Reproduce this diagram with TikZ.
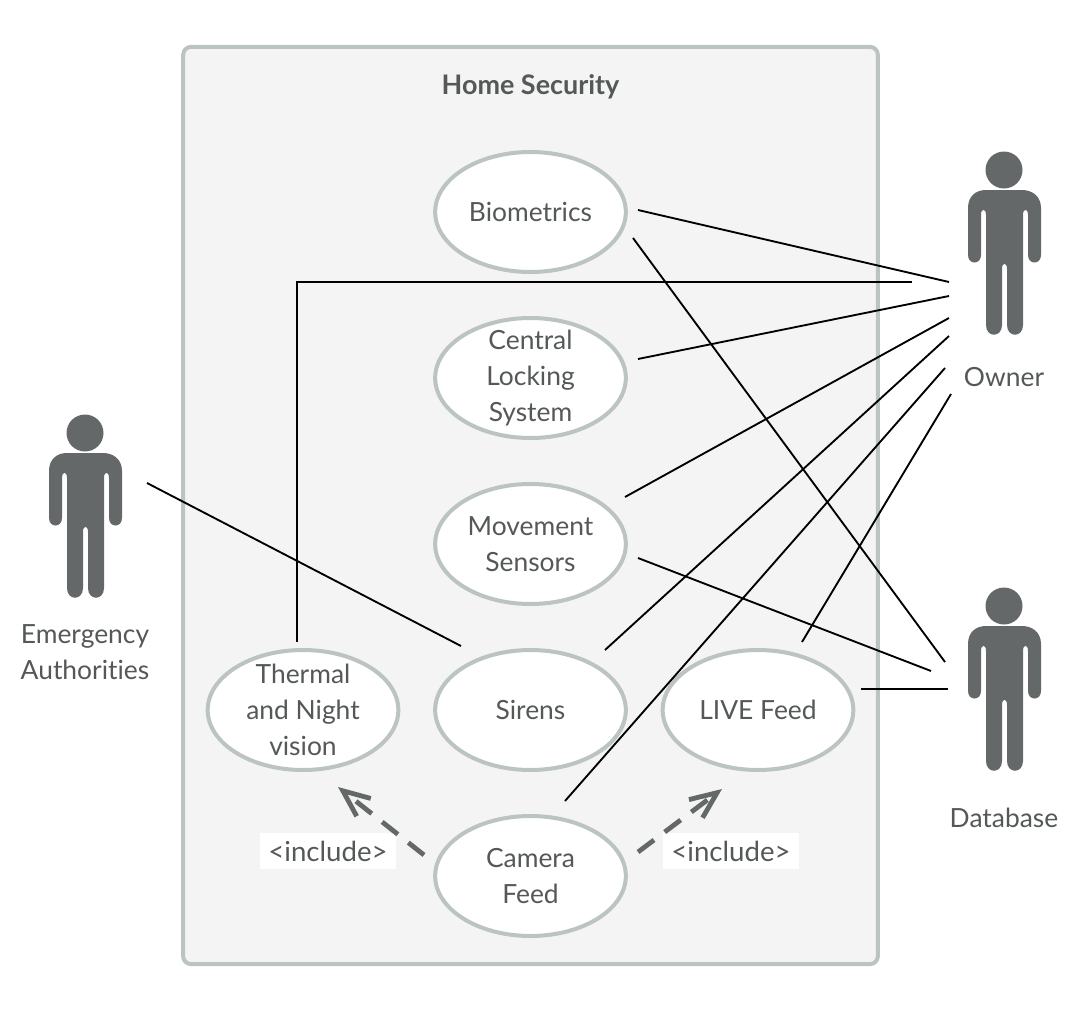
\documentclass[tikz,border=0pt]{standalone}
\usepackage{fontspec}
\setmainfont{Lato}[Ligatures={NoCommon,NoRequired,NoContextual}]
\usetikzlibrary{arrows.meta,shapes.geometric}
\definecolor{ink}{HTML}{555858}
\definecolor{figure}{HTML}{656869}
\definecolor{rim}{HTML}{BCC3C3}
\definecolor{panel}{HTML}{F4F4F4}
\tikzset{
  x=0.75pt,y=-0.75pt,
  txt/.style={text=ink,font=\fontsize{19.8}{27}\selectfont,align=center,inner sep=0pt},
  usecase/.style={ellipse,draw=rim,fill=white,line width=3pt,minimum width=143pt,minimum height=90pt,txt,inner sep=-30pt},
  assoc/.style={draw=black,line width=1.4pt},
  incl/.style={draw=figure,line width=3.6pt,dash pattern=on 15pt off 10pt,-{Straight Barb[length=20pt,width=17pt,line width=3.6pt]}},
  tag/.style={fill=white,minimum width=102pt,minimum height=27pt,txt,font=\fontsize{20.7}{27}\selectfont},
}
\newcommand{\stickman}[2]{%
  \begin{scope}[shift={(#1,#2)}]
    \fill[figure] (0,0) circle[radius=18.5];
    \fill[figure] (-18,20) -- (18,20)
      .. controls (28,20) and (37,26) .. (37,38)
      -- (37,85) .. controls (37,95) and (24,95) .. (24,85)
      -- (24,45) .. controls (24,38) and (19,38) .. (19,45)
      -- (19,155) .. controls (19,168) and (3,168) .. (3,155)
      -- (3,99) .. controls (3,92) and (-2,92) .. (-2,99)
      -- (-2,155) .. controls (-2,168) and (-18,168) .. (-18,155)
      -- (-18,45) .. controls (-18,38) and (-23,38) .. (-23,45)
      -- (-23,85) .. controls (-23,95) and (-36,95) .. (-36,85)
      -- (-36,38) .. controls (-36,26) and (-28,20) .. (-18,20) -- cycle;
  \end{scope}}
\begin{document}
\begin{tikzpicture}
\useasboundingbox (0,0) rectangle (1086,1024);
\node[draw=rim,fill=panel,line width=3pt,rounded corners=6pt,minimum width=521pt,minimum height=688pt,inner sep=0pt] (frame) at (530.5,505.5) {};
\node[txt,font=\fontsize{20.2}{27}\selectfont\bfseries] (title) at (530.5,87) {Home Security};
\node[usecase] (bio) at (530.5,212) {Biometrics};
\node[usecase] (central) at (530.5,378) {Central\\Locking\\System};
\node[usecase] (move) at (530.5,544) {Movement\\Sensors};
\node[usecase] (siren) at (530.5,710) {Sirens};
\node[usecase] (cam) at (530.5,876) {Camera\\Feed};
\node[usecase] (therm) at (303,710) {Thermal\\and Night\\vision};
\node[usecase] (live) at (758,710) {LIVE Feed};
\stickman{85}{433}
\stickman{1004}{170}
\stickman{1004}{606}
\node[txt] (emerg) at (85,652) {Emergency\\Authorities};
\node[txt] (owner) at (1004,377) {Owner};
\node[txt] (db) at (1004,818) {Database};
\node[tag] (tagl) at (328,851) {<include>};
\node[tag] (tagr) at (731,851) {<include>};
% free ends
\coordinate (o1) at (949,282);
\coordinate (o2) at (912,282);
\coordinate (o3) at (949,296);
\coordinate (o4) at (949,318);
\coordinate (o5) at (949,336);
\coordinate (o6) at (945,368);
\coordinate (o7) at (951,394);
\coordinate (d1) at (945,662);
\coordinate (d2) at (931,671);
\coordinate (d3) at (948,689);
\coordinate (e1) at (147,483);
\coordinate (b1) at (638,210);
\coordinate (b2) at (633,238);
\coordinate (t1) at (297,642);
\coordinate (t2) at (297,282);
\coordinate (c1) at (638,359);
\coordinate (m1) at (625,497);
\coordinate (m2) at (638,558);
\coordinate (s1) at (605,650);
\coordinate (s2) at (461,646);
\coordinate (f1) at (565,801);
\coordinate (l1) at (802,642);
\coordinate (l2) at (861,689);
\coordinate (f2) at (424,855);
\coordinate (f3) at (638,852);
\coordinate (a1) at (338,787);
\coordinate (a2) at (722,789);
\draw[assoc] (b1) -- (o1);
\draw[assoc] (b2) -- (d1);
\draw[assoc] (t1) -- (t2) -- (o2);
\draw[assoc] (c1) -- (o3);
\draw[assoc] (m1) -- (o4);
\draw[assoc] (m2) -- (d2);
\draw[assoc] (s1) -- (o5);
\draw[assoc] (f1) -- (o6);
\draw[assoc] (l1) -- (o7);
\draw[assoc] (l2) -- (d3);
\draw[assoc] (e1) -- (s2);
\draw[incl] (f2) -- (a1);
\draw[incl] (f3) -- (a2);
\end{tikzpicture}
\end{document}
